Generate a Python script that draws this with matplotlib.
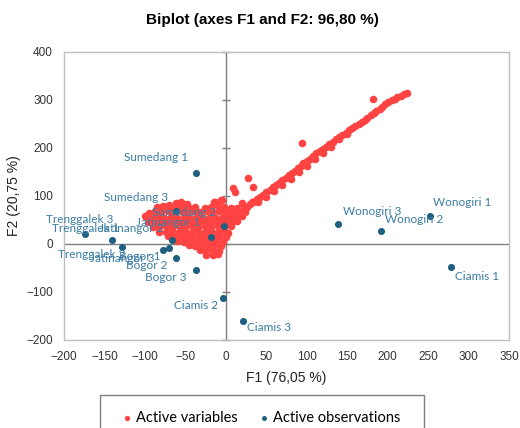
import matplotlib.pyplot as plt
import numpy as np
from matplotlib.patches import Rectangle

# Наблюдения (F1, F2)
obs_names = ["Sumedang 1", "Sumedang 2", "Sumedang 3",
             "Jatinangor 1", "Jatinangor 2", "Jatinangor 3",
             "Trenggalek 1", "Trenggalek 2", "Trenggalek 3",
             "Bogor 1", "Bogor 2", "Bogor 3",
             "Ciamis 1", "Ciamis 2", "Ciamis 3",
             "Wonogiri 1", "Wonogiri 2", "Wonogiri 3"]
obs_f1 = [-37, -2, -62, -18, -66, -78, -141, -128, -174, -70, -62, -37,
          278, -3, 21, 252, 192, 139]
obs_f2 = [148, 37, 69, 15, 8, -12, 8, -6, 21, -8, -29, -54,
          -48, -112, -160, 58, 27, 42]

# Переменные (F1, F2)
var_points = [
    # диагональ
    (224, 315), (220, 312), (216, 309), (212, 306), (209, 302), (205, 299),
    (201, 296), (197, 291), (193, 286), (190, 282), (186, 277), (183, 273),
    (179, 268), (175, 263), (172, 259), (168, 255), (164, 250), (160, 246),
    (156, 241), (152, 237), (148, 232), (144, 228), (140, 223), (136, 218),
    (132, 213), (128, 208), (124, 203), (120, 198), (116, 194), (112, 189),
    (108, 184), (104, 178), (100, 173), (96, 168), (93, 163), (89, 158),
    (86, 153), (82, 148), (78, 143), (74, 138), (70, 133), (66, 128),
    (62, 123), (58, 118), (54, 113), (50, 108), (46, 103), (42, 98),
    (38, 93), (34, 88), (30, 83), (26, 78), (22, 73), (18, 68), (14, 62),
    (10, 56), (6, 50), (2, 44),
    (40, 88), (50, 98), (60, 110), (70, 122), (80, 135), (90, 150),
    (100, 162), (110, 178), (120, 190), (130, 203), (140, 218), (150, 230),
    # отдельные точки
    (182, 302), (94, 210), (27, 137), (34, 119), (9, 117), (11, 108),
    (-13, 87), (-5, 92), (20, 85), (32, 88),
    # облако около начала координат
    (-62, 86), (-55, 88), (-48, 84), (-14, 88), (-6, 91), (-70, 82),
    (-85, 78), (-78, 80), (-70, 76), (-62, 78), (-54, 76), (-46, 75),
    (-38, 77), (-26, 74), (-18, 77), (-10, 80), (-2, 78), (6, 76), (14, 74),
    (-95, 64), (-88, 68), (-80, 66), (-72, 68), (-64, 66), (-56, 68),
    (-48, 66), (-40, 68), (-32, 66), (-24, 68), (-16, 66), (-8, 68),
    (0, 66), (8, 66), (16, 64), (24, 66),
    (-100, 58), (-92, 56), (-84, 57), (-76, 55), (-68, 57), (-60, 55),
    (-52, 57), (-44, 55), (-36, 57), (-28, 55), (-20, 57), (-12, 55),
    (-4, 57), (4, 55), (12, 56), (20, 58),
    (-96, 46), (-88, 45), (-80, 47), (-72, 45), (-64, 47), (-56, 45),
    (-48, 47), (-40, 45), (-32, 47), (-24, 45), (-16, 47), (-8, 45),
    (0, 47), (8, 45), (14, 48),
    (-90, 36), (-82, 35), (-74, 37), (-66, 35), (-58, 37), (-50, 35),
    (-42, 37), (-34, 35), (-26, 37), (-18, 35), (-10, 37), (-2, 35), (6, 38),
    (-82, 26), (-74, 25), (-66, 27), (-58, 25), (-50, 27), (-42, 25),
    (-34, 27), (-26, 25), (-18, 27), (-10, 25), (-2, 27), (3, 22),
    (-72, 16), (-64, 15), (-56, 17), (-48, 15), (-40, 17), (-32, 15),
    (-24, 17), (-16, 15), (-8, 17), (0, 15),
    (-60, 6), (-52, 5), (-44, 7), (-36, 5), (-28, 7), (-20, 5), (-12, 7), (-4, 5),
    (-46, -3), (-38, -5), (-30, -3), (-22, -5), (-14, -3), (-6, -5),
    (-32, -13), (-24, -15), (-16, -13), (-8, -14),
    (-24, -22), (-16, -23), (-10, -21),
]
var_xy = np.array(var_points)

xticks = np.arange(-200, 351, 50)
yticks = np.arange(-200, 401, 100)

# Смещения подписей (пиксели) и выравнивание
label_pos = {
    "Sumedang 1": (-8, 15, "right"), "Sumedang 2": (-8, 14, "right"),
    "Sumedang 3": (-8, 13, "right"), "Jatinangor 1": (-11, 14, "right"),
    "Jatinangor 2": (-9, 12, "right"), "Jatinangor 3": (-8, -9, "right"),
    "Trenggalek 1": (8, 12, "right"), "Trenggalek 2": (3, -8, "right"),
    "Trenggalek 3": (-5, 14, "center"), "Bogor 1": (-9, -9, "right"),
    "Bogor 2": (-8, -8, "right"), "Bogor 3": (-9, -8, "right"),
    "Ciamis 1": (4, -9, "left"), "Ciamis 2": (-5, -8, "right"),
    "Ciamis 3": (4, -7, "left"), "Wonogiri 1": (3, 14, "left"),
    "Wonogiri 2": (4, 12, "left"), "Wonogiri 3": (5, 12, "left"),
}

red = "#FF4343"
blue = "#1F5F7F"
label_color = "#3A7CA3"
label_font = ["Lato", "DejaVu Sans"]

fig = plt.figure(figsize=(5.2, 4.28), dpi=100)
ax = fig.add_axes([64 / 520, 88 / 428, 445 / 520, 288 / 428])

ax.axvline(0, color="#7F7F7F", lw=1, zorder=1)
ax.axhline(0, color="#7F7F7F", lw=1, zorder=1)
ax.plot(np.zeros(len(yticks)), yticks, ls="none", marker="_", ms=6,
        color="#7F7F7F", mew=1, zorder=1, clip_on=False)

ax.scatter(var_xy[:, 0], var_xy[:, 1], s=30, color=red, lw=0, zorder=2,
           label="Active variables")
ax.scatter(obs_f1, obs_f2, s=26, color=blue, lw=0, zorder=3,
           label="Active observations")

for name, x, y in zip(obs_names, obs_f1, obs_f2):
    dx, dy, ha = label_pos[name]
    ax.annotate(name, (x, y), xytext=(dx, dy), textcoords="offset pixels",
                ha=ha, va="center", fontsize=8.5, color=label_color,
                family=label_font, zorder=4)

ax.set_xlim(-200, 350)
ax.set_ylim(-200, 400)
ax.set_xticks(xticks)
ax.set_yticks(yticks)
ax.tick_params(length=0, labelsize=8.5, labelcolor="#333333", pad=8)
for lbl in ax.get_xticklabels() + ax.get_yticklabels():
    lbl.set_family("Liberation Sans")
for sp in ax.spines.values():
    sp.set_color("#BFBFBF")
    sp.set_linewidth(1)

ax.set_xlabel("F1 (76,05 %)", fontsize=10, family="Liberation Sans",
              color="#222222", labelpad=6)
ax.set_ylabel("F2 (20,75 %)", fontsize=10, family="Liberation Sans",
              color="#222222", labelpad=4)
fig.text(0.505, 0.953, "Biplot (axes F1 and F2: 96,80 %)", ha="center",
         va="center", fontsize=11, weight="bold", family="Liberation Sans")

# Легенда: рамка отдельно, она уходит за нижний край рисунка
fig.add_artist(Rectangle((100 / 520, -10 / 428), 324 / 520, 43 / 428,
                         transform=fig.transFigure, fill=False,
                         edgecolor="#7F7F7F", lw=1))
leg = fig.legend(loc="center left", ncol=2,
                 bbox_to_anchor=(123 / 520, 10 / 428),
                 borderaxespad=0, borderpad=0, frameon=False,
                 prop={"family": label_font, "size": 10.5},
                 markerscale=0.7, handlelength=0.6, handletextpad=0.3,
                 columnspacing=1.5)

fig.savefig("out.png", dpi=100)
